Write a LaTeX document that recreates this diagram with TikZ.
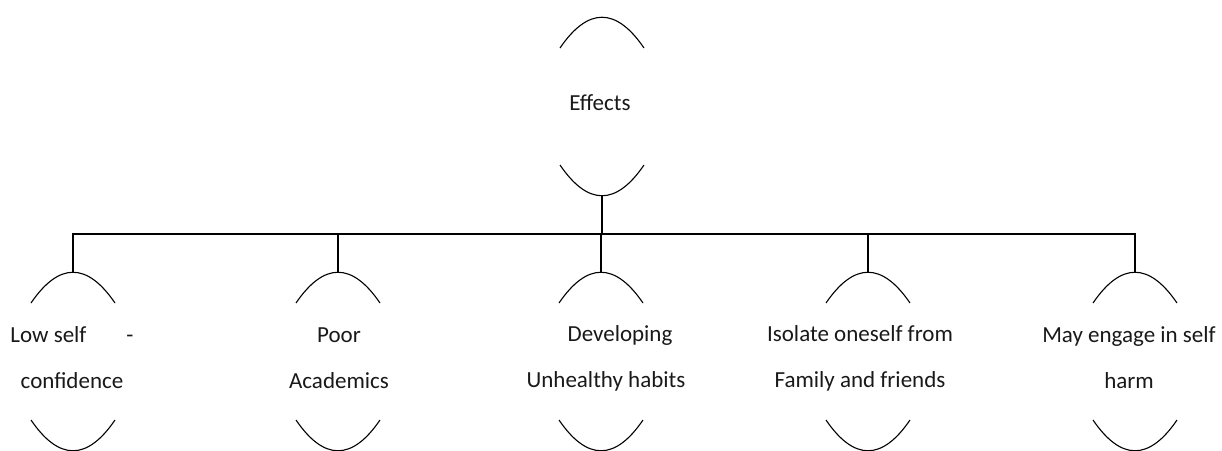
\documentclass[tikz,border=0pt]{standalone}
\usepackage{fontspec}
\setmainfont{Carlito}
\begin{document}
\begin{tikzpicture}[x=1pt,y=-1pt,line width=1.1pt,
  lbl/.style={font=\fontsize{23}{46}\selectfont,align=center,inner sep=0pt,text=black!90},
  cap/.pic={\draw (-42,0) .. controls (-14,-41) and (14,-41) .. (42,0);},
  cup/.pic={\draw (-42,0) .. controls (-14,41) and (14,41) .. (42,0);}]
\useasboundingbox (0,0) rectangle (1222,450);
% top node
\pic at (602,48) {cap};
\pic at (602,165) {cup};
\coordinate (et) at (602,17);
\coordinate (eb) at (602,196);
\node[lbl] (effects) at (600,103) {Effects};
% children arcs
\foreach \n/\x in {1/73,2/338,3/601,4/868,5/1135}{
  \pic at (\x,303) {cap};
  \pic at (\x,420) {cup};
  \coordinate (c\n t) at (\x,272);
}
% texts
\node[lbl] (n1) at (72,358) {Low self\hspace{40pt}-\\confidence};
\node[lbl] (n2) at (339,358) {Poor\\Academics};
\node[lbl] (n3) at (606,358) {\hspace*{28pt}Developing\\Unhealthy habits};
\node[lbl] (n4) at (860,358) {Isolate oneself from\\Family and friends};
\node[lbl] (n5) at (1129,358) {May engage in self\\harm};
% connectors
\coordinate (bus) at (602,234);
\draw (eb) -- (bus);
\draw (c1t) |- (bus) -| (c5t);
\draw (c2t) -- (c2t |- bus);
\draw (c3t) -- (c3t |- bus);
\draw (c4t) -- (c4t |- bus);
\end{tikzpicture}
\end{document}
